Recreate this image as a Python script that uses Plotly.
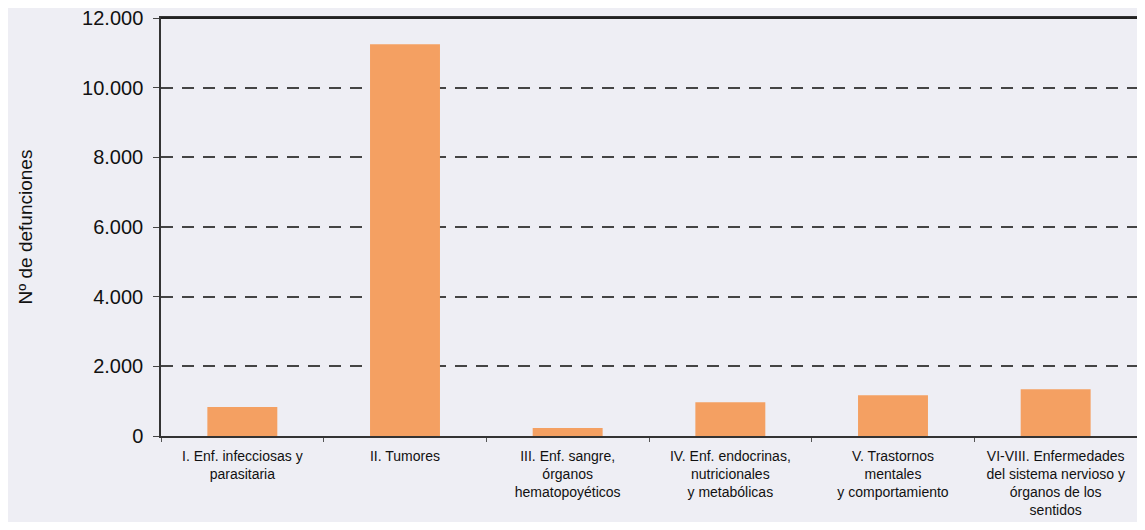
import plotly.graph_objects as go

categories = [
    "I. Enf. infecciosas y<br>parasitaria",
    "II. Tumores",
    "III. Enf. sangre,<br>órganos<br>hematopoyéticos",
    "IV. Enf. endocrinas,<br>nutricionales<br>y metabólicas",
    "V. Trastornos<br>mentales<br>y comportamiento",
    "VI-VIII. Enfermedades<br>del sistema nervioso y<br>órganos de los<br>sentidos",
]
defunciones = [830, 11250, 230, 970, 1170, 1340]
y_ticks = [0, 2000, 4000, 6000, 8000, 10000, 12000]

font_family = "Liberation Sans Narrow, Arial Narrow, Liberation Sans, Arial, sans-serif"

fig = go.Figure(
    go.Bar(
        x=categories,
        y=defunciones,
        marker=dict(color="#F4A062", line=dict(width=0)),
        width=0.43,
        cliponaxis=False,
    )
)

fig.update_layout(
    width=1129,
    height=514,
    margin=dict(l=153, r=0, t=10, b=86, autoexpand=False),
    paper_bgcolor="#EEEEF4",
    plot_bgcolor="#EEEEF4",
    separators=",.",
    showlegend=False,
    font=dict(family=font_family, color="#111111"),
    shapes=[
        dict(type="line", xref="paper", yref="paper", x0=0, x1=1, y0=1, y1=1,
             layer="above", line=dict(color="#222222", width=2)),
    ],
)

fig.update_xaxes(
    showline=True,
    linecolor="#333333",
    linewidth=1.5,
    mirror=True,
    automargin=False,
    ticks="outside",
    tickson="boundaries",
    ticklen=4,
    tickcolor="#555555",
    ticklabelstandoff=6,
    showgrid=False,
    tickfont=dict(size=14, family=font_family, color="#111111"),
)

fig.update_yaxes(
    range=[0, 12000],
    tickvals=y_ticks,
    tickformat=",",
    automargin=False,
    showline=True,
    linecolor="#333333",
    linewidth=1.5,
    ticks="outside",
    ticklen=6,
    tickcolor="#444444",
    ticklabelstandoff=6,
    ticklabeloverflow="allow",
    showgrid=True,
    gridcolor="#444444",
    gridwidth=1.5,
    griddash="12px,9px",
    zeroline=False,
    tickfont=dict(size=20, family="Liberation Sans, Arial, sans-serif", color="#111111"),
    title=dict(text="Nº de defunciones", font=dict(size=19, family="Liberation Sans, Arial, sans-serif", color="#111111"), standoff=44),
)

fig.write_html("out.html")
